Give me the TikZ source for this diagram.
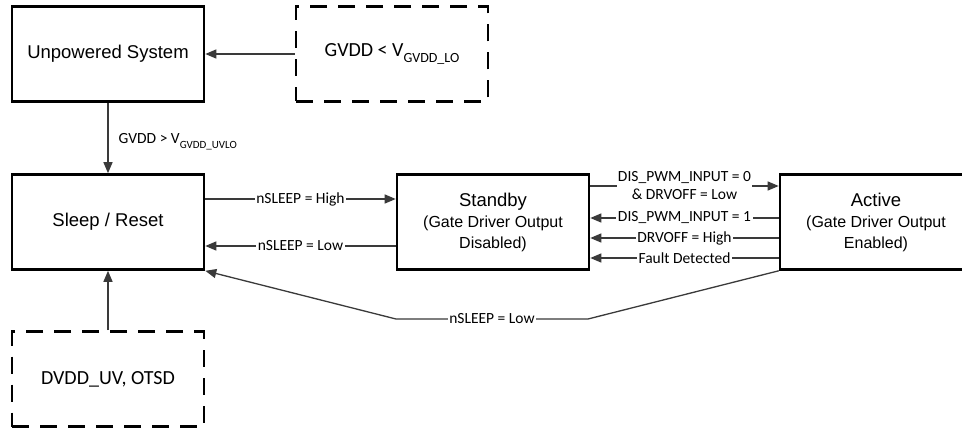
\documentclass[tikz,border=0pt]{standalone}
\usepackage{fontspec}
\setmainfont{Liberation Sans}
\newfontfamily\lblfont{Carlito}
\usetikzlibrary{arrows.meta}
\definecolor{linegray}{HTML}{3A3A3A}
\begin{document}
\begin{tikzpicture}[x=1pt,y=-1pt,
  statebox/.style={draw=black, line width=2.6pt, minimum width=192pt, minimum height=95pt, inner sep=0pt, align=center,
    font=\fontsize{18.5}{21}\selectfont},
  condbox/.style={draw=black, line width=2.6pt, dash pattern=on 17pt off 11pt, minimum width=192pt, minimum height=95pt, inner sep=0pt,
    font=\lblfont\fontsize{20}{22}\selectfont},
  conn/.style={draw=linegray, line width=1.3pt, -{Triangle[length=11pt,width=9pt]}},
  lbl/.style={fill=white, inner sep=1.5pt, font=\lblfont\fontsize{15.5}{18}\selectfont, text=black, align=center}]
\useasboundingbox (0,0) rectangle (962,428);
\clip (0,0) rectangle (962,428);
\fill[white] (0,0) rectangle (962,428);

\node[statebox] (up) at (108,54) {Unpowered System};
\node[condbox] (gv) at (392,54) {GVDD < V\raisebox{-0.32em}{\fontsize{14}{14}\selectfont GVDD\_LO}};
\node[statebox] (sl) at (108,222) {Sleep / Reset};
\node[statebox] (sb) at (493,222) {Standby\\{\fontsize{16}{20.5}\selectfont (Gate Driver Output}\\{\fontsize{16}{20.5}\selectfont Disabled)}};
\node[statebox] (ac) at (876,222) {Active\\{\fontsize{16}{20.5}\selectfont (Gate Driver Output}\\{\fontsize{16}{20.5}\selectfont Enabled)}};
\node[condbox] (dv) at (108,379) {DVDD\_UV, OTSD};

\draw[conn] (gv.west) -- (up.east);
\draw[conn] (up.south) -- (sl.north);
\node[lbl, fill=none, anchor=west] (uvlo) at (117,142) {GVDD > V\raisebox{-0.3em}{\fontsize{11}{11}\selectfont GVDD\_UVLO}};
\draw[conn] (dv.north) -- (sl.south);

\draw[conn] ([yshift=23pt]sl.east) -- node[lbl] (l1) {nSLEEP = High} ([yshift=23pt]sb.west);
\draw[conn] ([yshift=-24pt]sb.west) -- node[lbl] (l2) {nSLEEP = Low} ([yshift=-24pt]sl.east);

\draw[conn] ([yshift=36pt]sb.east) -- node[lbl, inner sep=0.5pt] (l3) {DIS\_PWM\_INPUT = 0\\\& DRVOFF = Low} ([yshift=36pt]ac.west);
\draw[conn] ([yshift=4pt]ac.west) -- node[lbl] (l4) {DIS\_PWM\_INPUT = 1} ([yshift=4pt]sb.east);
\draw[conn] ([yshift=-16pt]ac.west) -- node[lbl] (l5) {DRVOFF = High} ([yshift=-16pt]sb.east);
\draw[conn] ([yshift=-36pt]ac.west) -- node[lbl] (l6) {Fault Detected} ([yshift=-36pt]sb.east);

\coordinate (b1) at (588,319);
\coordinate (b2) at (396,319);
\draw[conn] (ac.south west) -- (b1) -- node[lbl] (l7) {nSLEEP = Low} (b2) -- (sl.south east);
\end{tikzpicture}
\end{document}
